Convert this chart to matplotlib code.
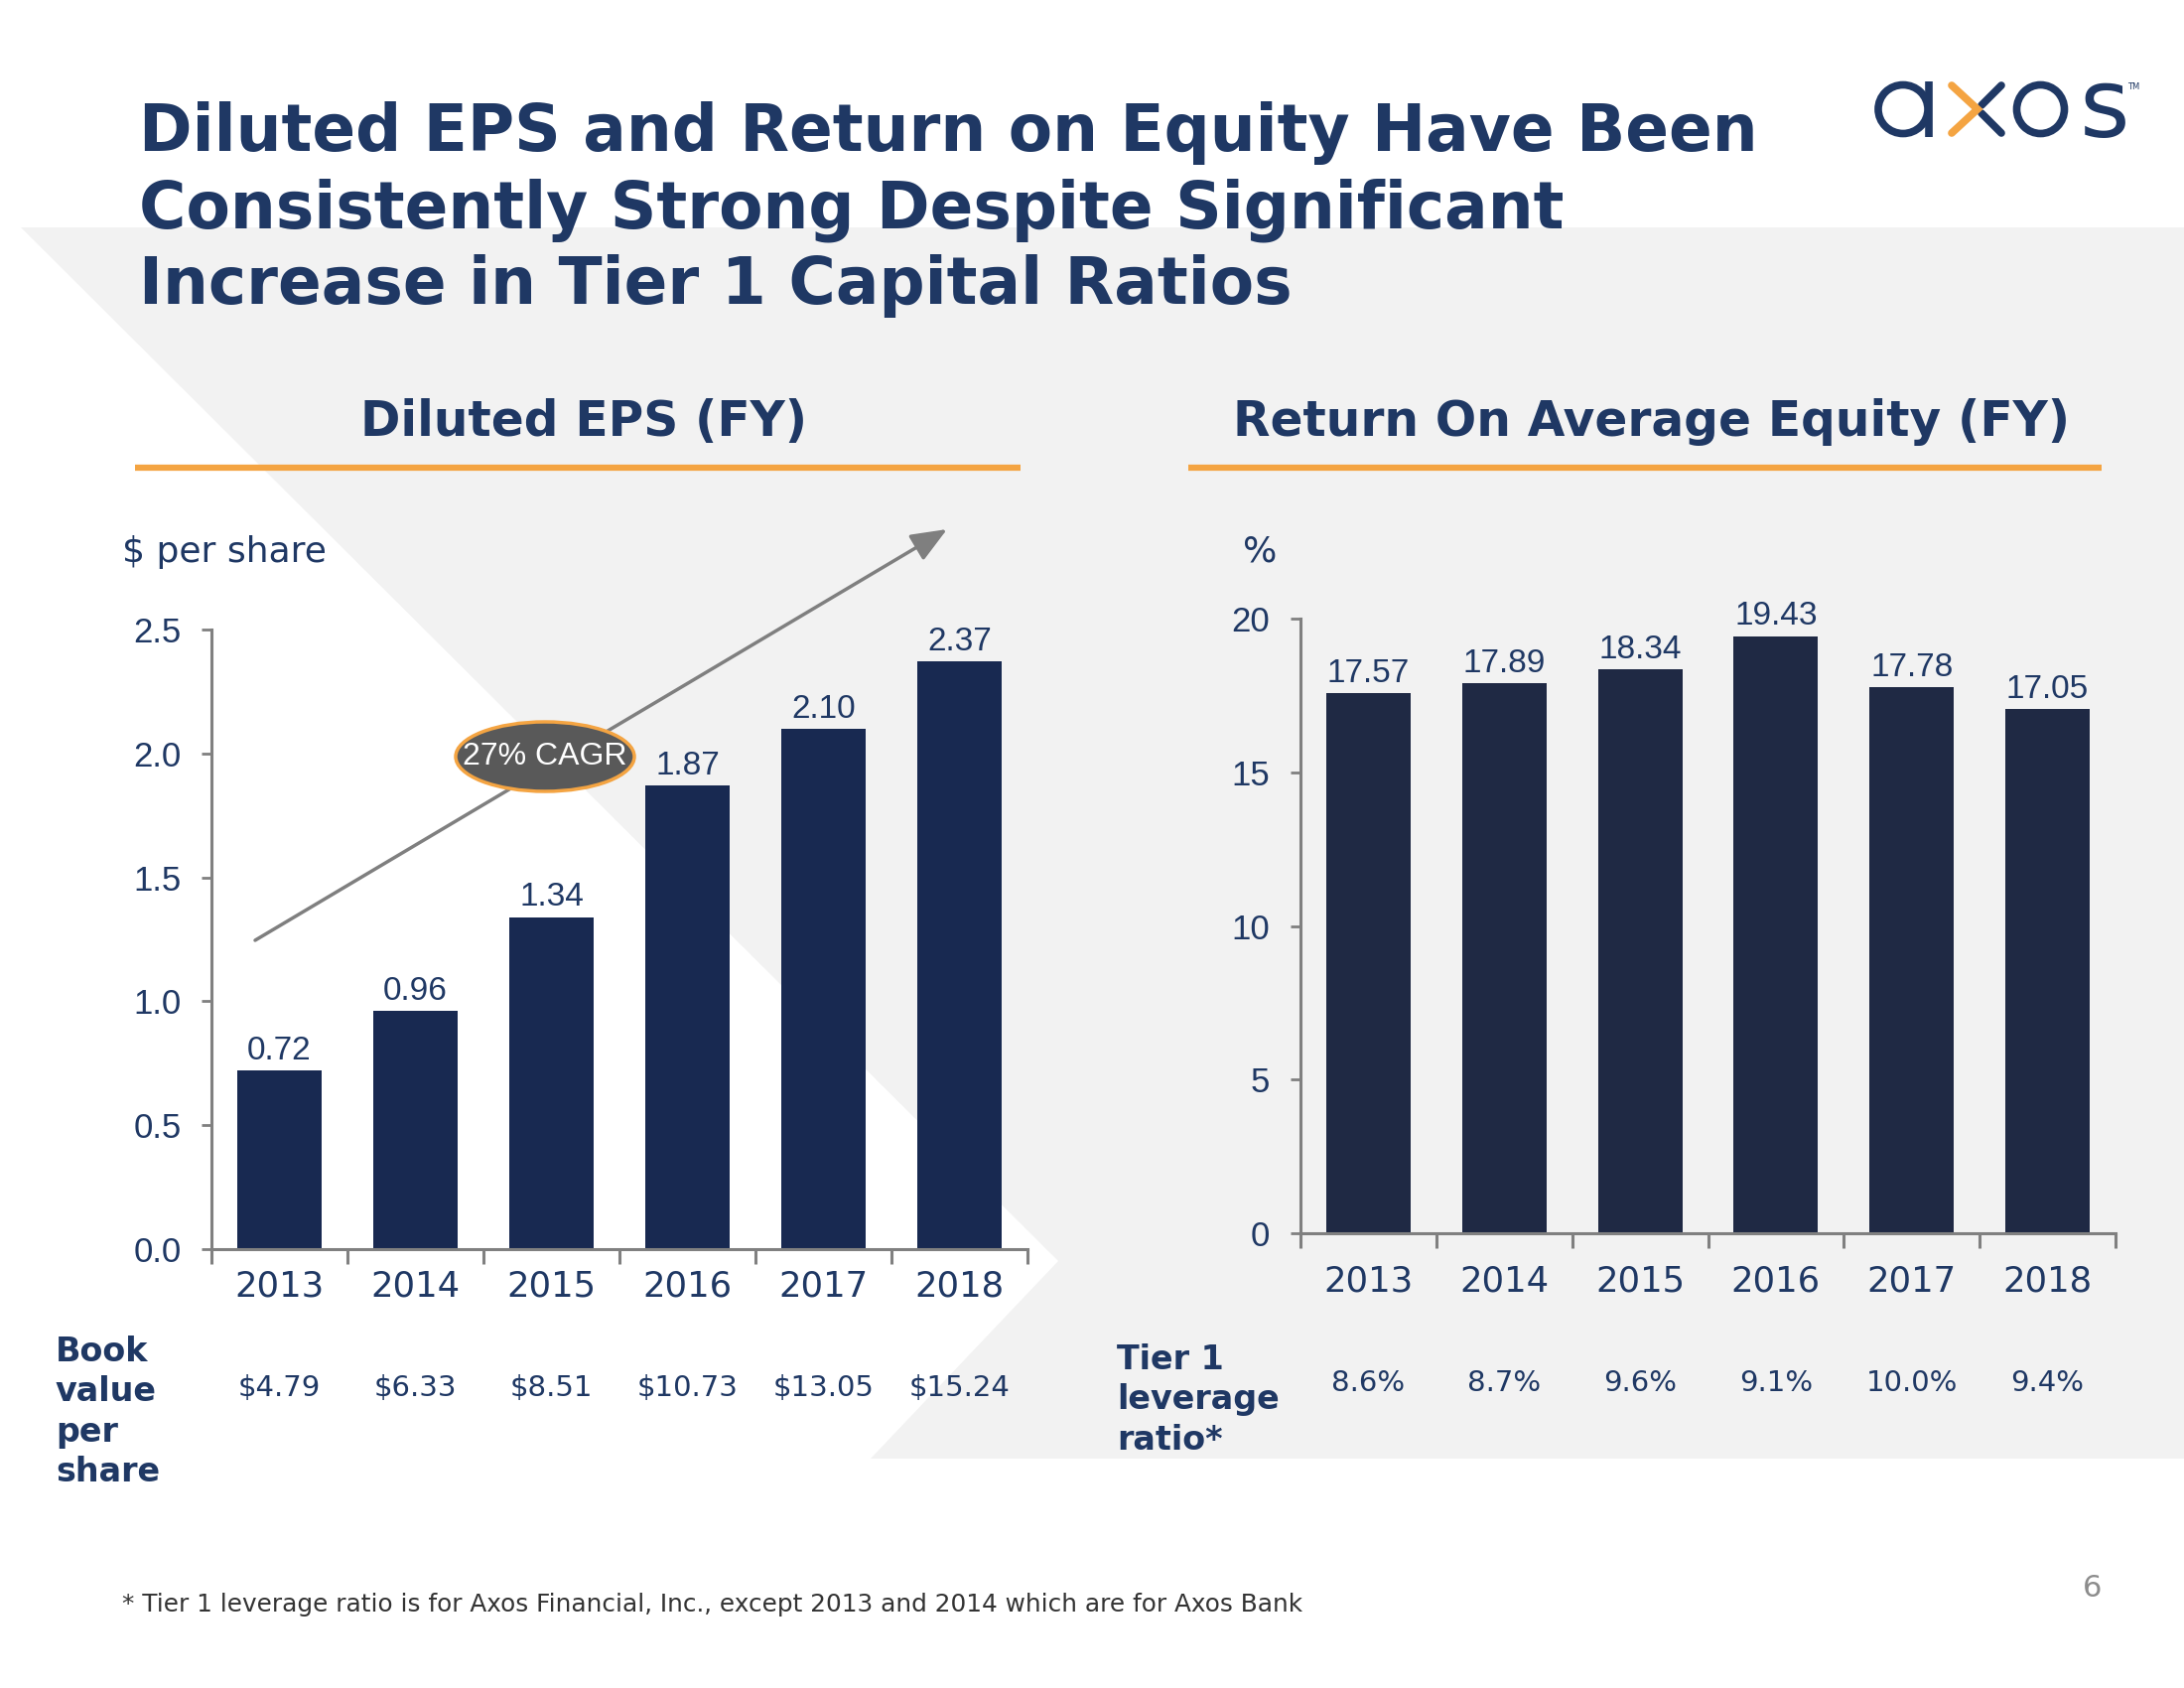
import numpy as np
import matplotlib
matplotlib.use('Agg')
import matplotlib.pyplot as plt
from matplotlib.patches import Polygon, Ellipse
from matplotlib.transforms import blended_transform_factory

plt.rcParams['font.family'] = 'DejaVu Sans'

# ---- data ----
years = ['2013', '2014', '2015', '2016', '2017', '2018']
eps = [0.72, 0.96, 1.34, 1.87, 2.10, 2.37]
roe = [17.57, 17.89, 18.34, 19.43, 17.78, 17.05]
book_value = ['$4.79', '$6.33', '$8.51', '$10.73', '$13.05', '$15.24']
tier1 = ['8.6%', '8.7%', '9.6%', '9.1%', '10.0%', '9.4%']
eps_ticks = [0.0, 0.5, 1.0, 1.5, 2.0, 2.5]
roe_ticks = [0, 5, 10, 15, 20]

title_lines = ['Diluted EPS and Return on Equity Have Been',
               'Consistently Strong Despite Significant',
               'Increase in Tier 1 Capital Ratios']
footnote = '* Tier 1 leverage ratio is for Axos Financial, Inc., except 2013 and 2014 which are for Axos Bank'

# ---- colours ----
NAVY = '#1f3864'
BAR_L = '#182951'
BAR_R = '#1f2944'
ORANGE = '#f4a442'
GREY_BG = '#f2f2f2'
AXIS_GREY = '#808080'
W, H = 2200, 1700

fig = plt.figure(figsize=(22, 17), dpi=100)
bg = fig.add_axes([0, 0, 1, 1], zorder=0)
bg.set_xlim(0, W)
bg.set_ylim(H, 0)
bg.axis('off')


def rect(x0, y0, x1, y1):
    # pixel box -> figure fraction
    return [x0 / W, 1 - y1 / H, (x1 - x0) / W, (y1 - y0) / H]


# background chevron
bg.add_patch(Polygon([(21, 229), (W, 229), (W, 1469), (877, 1469), (1066, 1270)],
                     closed=True, facecolor=GREY_BG, edgecolor='none', zorder=0))

# title
for i, line in enumerate(title_lines):
    bg.text(140, 152 + i * 77, line, fontsize=46.5, fontweight='bold', color=NAVY,
            va='baseline', ha='left')

# logo
lw_logo = 5.5
bg.add_patch(Ellipse((1917, 110), 50, 49, fill=False, edgecolor=NAVY, lw=lw_logo))
bg.plot([1943, 1943], [82, 138], color=NAVY, lw=lw_logo, solid_capstyle='butt')
bg.plot([2016, 1996], [86, 106], color=NAVY, lw=lw_logo, solid_capstyle='round')
bg.plot([1996, 2016], [114, 134], color=NAVY, lw=lw_logo, solid_capstyle='round')
bg.plot([1966, 1992, 1966], [86, 110, 134], color=ORANGE, lw=lw_logo,
        solid_capstyle='round', solid_joinstyle='miter')
bg.add_patch(Ellipse((2055.5, 110), 48, 49, fill=False, edgecolor=NAVY, lw=lw_logo))
bg.text(2120, 138, 's', fontsize=70, color=NAVY, ha='center', va='baseline')
bg.text(2143, 90, 'TM', fontsize=6, color=NAVY, ha='left', va='baseline')

# section headers
bg.text(588, 439, 'Diluted EPS (FY)', fontsize=35, fontweight='bold', color=NAVY,
        ha='center', va='baseline')
bg.text(1663, 439, 'Return On Average Equity (FY)', fontsize=35, fontweight='bold',
        color=NAVY, ha='center', va='baseline')
bg.plot([136, 1028], [471, 471], color=ORANGE, lw=4.5, solid_capstyle='butt')
bg.plot([1197, 2117], [471, 471], color=ORANGE, lw=4.5, solid_capstyle='butt')

# unit labels
bg.text(123, 556, '$ per share', fontsize=26, color=NAVY, ha='left', va='center')
bg.text(1252, 556, '%', fontsize=26, color=NAVY, ha='left', va='center')


def bar_panel(box, values, ticks, tick_fmt, color, xpad):
    ax = fig.add_axes(rect(*box), zorder=2)
    ax.set_facecolor('none')
    x = np.arange(len(years))
    bars = ax.bar(x, values, width=0.62, color=color, zorder=2)
    ax.bar_label(bars, labels=[f'{v:.2f}' for v in values], padding=3,
                 fontsize=24, color=NAVY, fontfamily='Liberation Sans')
    ax.set_xlim(-0.5, len(years) - 0.5)
    ax.set_ylim(ticks[0], ticks[-1])
    for s in ['top', 'right']:
        ax.spines[s].set_visible(False)
    for s in ['left', 'bottom']:
        ax.spines[s].set_color(AXIS_GREY)
        ax.spines[s].set_linewidth(2.2)
    ax.set_xticks(np.arange(-0.5, len(years), 1))
    ax.set_xticklabels([])
    ax.set_xticks(x, minor=True)
    ax.set_xticklabels(years, minor=True, fontsize=25.5, color=NAVY)
    ax.tick_params(axis='x', which='major', length=11, width=2.2, color=AXIS_GREY,
                   direction='out')
    ax.tick_params(axis='x', which='minor', length=0, pad=xpad)
    ax.set_yticks(ticks)
    ax.set_yticklabels([tick_fmt(t) for t in ticks], fontsize=25, color=NAVY,
                       fontfamily='Liberation Sans')
    ax.tick_params(axis='y', length=7, width=2, color=AXIS_GREY, pad=15)
    return ax


ax1 = bar_panel((213, 634, 1035, 1258), eps, eps_ticks, lambda t: f'{t:.1f}', BAR_L, 15)
ax2 = bar_panel((1310, 623, 2131, 1242), roe, roe_ticks, lambda t: f'{t:d}', BAR_R, 23)

# CAGR arrow and badge
bg.annotate('', xy=(954, 533), xytext=(257, 947),
            arrowprops=dict(arrowstyle='-|>,head_length=1.1,head_width=0.45',
                            mutation_scale=20, color='#7f7f7f', lw=2.5,
                            shrinkA=0, shrinkB=0), zorder=1)
bg.add_patch(Ellipse((549, 762), 180, 70, facecolor='#595959', edgecolor=ORANGE,
                     lw=2.5, zorder=3))
bg.text(549, 762, '27% CAGR', fontsize=23, color='white', ha='center', va='center',
        fontfamily='Liberation Sans', zorder=4)

# tables under charts
bg.text(56, 1422, 'Book\nvalue\nper\nshare', fontsize=24, fontweight='bold', color=NAVY,
        ha='left', va='center', linespacing=1.28)
bg.text(1125, 1410, 'Tier 1\nleverage\nratio*', fontsize=24, fontweight='bold',
        color=NAVY, ha='left', va='center', linespacing=1.28)
tr1 = blended_transform_factory(ax1.transData, bg.transData)
for i, s in enumerate(book_value):
    bg.text(i, 1398, s, transform=tr1, fontsize=21, color=NAVY, ha='center', va='center')
tr2 = blended_transform_factory(ax2.transData, bg.transData)
for i, s in enumerate(tier1):
    bg.text(i, 1393, s, transform=tr2, fontsize=21, color=NAVY, ha='center', va='center')

# footnote and page number
bg.text(123, 1616, footnote, fontsize=17.8, color='#333333', ha='left', va='center')
bg.text(2117, 1600, '6', fontsize=22, color='#8c8c8c', ha='right', va='center')

fig.savefig('out.png', dpi=100)
